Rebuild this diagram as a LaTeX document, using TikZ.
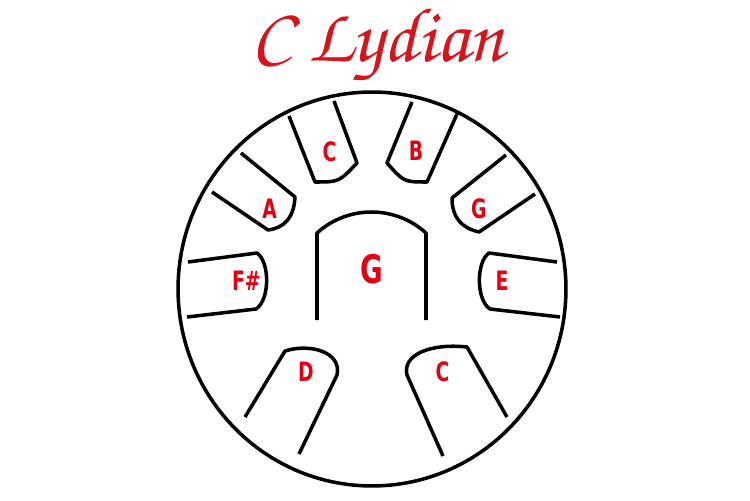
\documentclass[tikz,border=0pt]{standalone}
\usepackage{fontspec}
\usepackage[T1,TU]{fontenc}
\newfontfamily\notefont{DejaVu Sans Condensed Bold}[FakeStretch=0.78]
\newcommand\titlefont{\usefont{T1}{pzc}{mb}{it}}
\definecolor{notered}{RGB}{228,0,18}
\definecolor{titlered}{RGB}{215,20,25}
\begin{document}
\begin{tikzpicture}[x=0.02cm,y=-0.02cm,
  pad/.style={line width=2pt,line join=round},
  note/.style={text=notered,inner sep=0pt,font=\notefont\fontsize{15.2}{16}\selectfont}]
\useasboundingbox (0,0) rectangle (750,500);
\node[text=titlered,anchor=base,inner sep=0pt,font=\titlefont\fontsize{44}{52}\selectfont](title) at (378,62){C Lydian};

% drum body
\draw [pad] (372,289) ellipse [x radius=3.88cm,y radius=3.94cm];

% tongues
 \draw [pad] (289,116) -- (315,182) .. controls (339,182) .. (357,163) -- (334,101);
 \draw [pad] (241,153) -- (295,197) .. controls (294,218) and (284,228) .. (268,230) -- (212,192);
 \draw [pad] (412,102) -- (387,163) .. controls (404,182) .. (427,182) -- (457,114);
 \draw [pad] (506,155) -- (452,198) .. controls (452,218) and (462,228) .. (479,232) -- (535,194);
 \draw [pad] (188,262) -- (257,253) .. controls (270,262) and (270,300) .. (256,309) -- (187,317);
 \draw [pad] (557,262) -- (489,253) .. controls (476,262) and (476,300) .. (490,309) -- (560,317);
 \draw [pad] (317,320) -- (317,233) .. controls (348,205) and (395,205) .. (426,233) -- (426,320);
 \draw [pad] (245,417) -- (285,351) .. controls (310,343) and (342,352) .. (337,375) -- (299,454);
 \draw [pad] (443,456) -- (407,375) .. controls (402,355) and (430,343) .. (467,347) -- (507,417);

% notes
\node[note](c1) at (329.5,151.5){C};
\node[note](a) at (269.5,208.3){A};
\node[note](b) at (416,151){B};
\node[note](g1) at (478.8,209){G};
\node[note](fs) at (246.3,281){F\#};
\node[note](e) at (502,281){E};
\node[note,font=\notefont\fontsize{22.4}{24}\selectfont](g0) at (371.7,269){G};
\node[note](d) at (305.8,372){D};
\node[note](c2) at (442.5,371.7){C};
\end{tikzpicture}
\end{document}
